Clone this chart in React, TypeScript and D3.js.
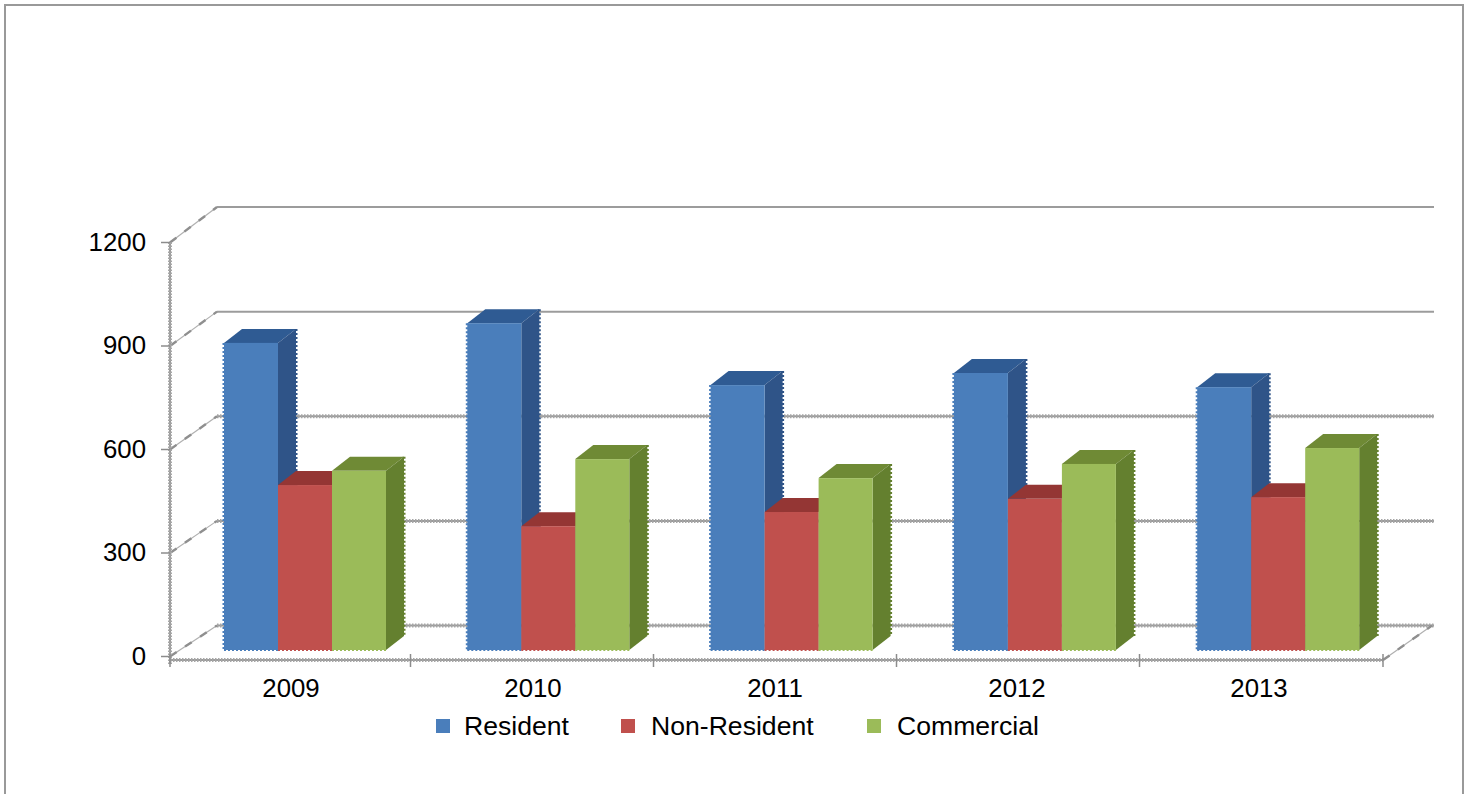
import React from "react";
import * as d3 from "d3";

const years = ["2009", "2010", "2011", "2012", "2013"];
const resident = [888, 945, 766, 801, 760];
const nonResident = [477, 358, 399, 437, 442];
const commercial = [518, 552, 497, 538, 584];
const yTicks = [0, 300, 600, 900, 1200];

const seriesNames = ["Resident", "Non-Resident", "Commercial"];
const seriesValues = [resident, nonResident, commercial];
const frontColors = ["#4a7ebb", "#c0504d", "#9bbb59"];
const topColors = ["#2f5b93", "#943634", "#6f8a35"];
const sideColors = ["#2f5488", "#7e2f2d", "#64802f"];

const FONT = '"Liberation Sans", Arial, sans-serif';
const AXIS_GRAY = "#9a9a9a";

// Bars, labels and tick marks sit on slightly different category spacings
const xBars = d3.scaleBand<string>().domain(years).range([170, 1386.5]);
const xLabels = d3.scaleBand<string>().domain(years).range([170, 1380]);
const xTicks = d3.scaleBand<string>().domain(years).range([167.5, 1382.5]);

// Front plane of the axes and back wall of the 3D box
const yFront = d3.scaleLinear().domain([0, 1200]).range([656.5, 242.5]);
const yBack = d3.scaleLinear().domain([0, 1200]).range([625.5, 207]);
const yBar = d3.scaleLinear().domain([0, 1200]).range([650, 235]);

const axisLeft = 170;
const axisRight = 1383;
const axisY = 660;
const wallLeft = 217;
const wallRight = 1434;
const barOffset = 54;
const barWidth = 54;
const depthX = 18;
const depthY = 14;

const poly = d3.line<[number, number]>();

function Stippled({ x1, y1, x2, y2 }: { x1: number; y1: number; x2: number; y2: number }) {
  return (
    <g fill="none">
      <line x1={x1} y1={y1} x2={x2} y2={y2} stroke={AXIS_GRAY} strokeWidth={2} />
      <line x1={x1} y1={y1} x2={x2} y2={y2} stroke="#a6a6a6" strokeWidth={4} strokeDasharray="1.5 1.5" />
    </g>
  );
}

function Diagonal({ x1, y1, x2, y2 }: { x1: number; y1: number; x2: number; y2: number }) {
  return (
    <g fill="none">
      <line x1={x1} y1={y1} x2={x2} y2={y2} stroke="#b0b0b0" strokeWidth={1.2} />
      <line x1={x1} y1={y1} x2={x2} y2={y2} stroke="#8f8f8f" strokeWidth={2.4} strokeDasharray="8 10" />
    </g>
  );
}

function Bar({ year, value, s }: { year: string; value: number; s: number }) {
  const x0 = (xBars(year) as number) + barOffset + s * barWidth;
  const x1 = x0 + barWidth;
  const yTop = yBar(value);
  const yBase = yBar(0);
  const edge = { strokeWidth: 3, strokeDasharray: "2 2", fill: "none" };
  const top: [number, number][] = [
    [x0, yTop],
    [x0 + depthX, yTop - depthY],
    [x1 + depthX, yTop - depthY],
    [x1, yTop],
  ];
  const side: [number, number][] = [
    [x1, yTop],
    [x1 + depthX, yTop - depthY],
    [x1 + depthX, yBase - depthY],
    [x1, yBase],
  ];
  return (
    <g>
      <path d={poly(top) + "Z"} fill={topColors[s]} />
      <path d={poly(side) + "Z"} fill={sideColors[s]} />
      <line
        x1={x1 + depthX}
        y1={yTop - depthY}
        x2={x1 + depthX}
        y2={yBase - depthY}
        stroke={sideColors[s]}
        {...edge}
      />
      <rect x={x0} y={yTop} width={barWidth} height={yBase - yTop} fill={frontColors[s]} />
      <line x1={x0} y1={yBase} x2={x1} y2={yBase} stroke={frontColors[s]} strokeWidth={2} strokeDasharray="2 2" />
      {s === 0 && <line x1={x0} y1={yTop} x2={x0} y2={yBase} stroke={frontColors[s]} {...edge} />}
    </g>
  );
}

const legendMarkers = [436, 621, 867];
const legendLabels = [464, 651, 897];

export default function App() {
  const tickXs = [axisLeft, ...years.slice(1).map((y) => xTicks(y) as number), axisRight];
  return (
    <svg
      width={1471}
      height={794}
      viewBox="0 0 1471 794"
      style={{ position: "absolute", left: 0, top: 0, display: "block", background: "#ffffff" }}
    >
      {/* Frame: its lower edge runs off the page */}
      <rect x={5} y={5} width={1458} height={800} fill="#ffffff" stroke="#999999" strokeWidth={2} />

      {/* Back wall gridlines and the diagonals running to the front axis */}
      {yTicks.map((t) => {
        const solid = t >= 900;
        const y = yBack(t);
        return (
          <g key={t}>
            {solid ? (
              <line x1={wallLeft} y1={y} x2={wallRight} y2={y} stroke="#9c9c9c" strokeWidth={2} />
            ) : (
              <Stippled x1={wallLeft} y1={y} x2={wallRight} y2={y} />
            )}
            <Diagonal x1={axisLeft} y1={yFront(t)} x2={wallLeft} y2={y} />
          </g>
        );
      })}
      <Diagonal x1={axisRight} y1={axisY} x2={wallRight - 2} y2={yBack(0)} />

      {/* Value axis */}
      <Stippled x1={axisLeft} y1={yFront(1200)} x2={axisLeft} y2={664} />
      {yTicks.map((t) => (
        <g key={t}>
          <line x1={161} y1={yFront(t)} x2={axisLeft} y2={yFront(t)} stroke="#8c8c8c" strokeWidth={1.5} />
          <text
            x={146}
            y={yFront(t) + 8}
            textAnchor="end"
            fontFamily={FONT}
            fontSize={25.8}
            fill="#000"
          >
            {t}
          </text>
        </g>
      ))}

      {/* Category axis */}
      <Stippled x1={axisLeft} y1={axisY} x2={axisRight} y2={axisY} />
      {tickXs.map((x) => (
        <line key={x} x1={x} y1={654} x2={x} y2={667} stroke="#8c8c8c" strokeWidth={1.5} />
      ))}
      {years.map((y) => (
        <text
          key={y}
          x={(xLabels(y) as number) + xLabels.bandwidth() / 2}
          y={697}
          textAnchor="middle"
          fontFamily={FONT}
          fontSize={25.8}
          fill="#000"
        >
          {y}
        </text>
      ))}

      {/* Bars, left to right so each covers its neighbour's side face */}
      {years.map((year, i) => (
        <g key={year}>
          {seriesValues.map((vals, s) => (
            <Bar key={s} year={year} value={vals[i]} s={s} />
          ))}
        </g>
      ))}

      {/* Legend */}
      {seriesNames.map((name, s) => (
        <g key={name}>
          <rect x={legendMarkers[s]} y={719} width={14} height={14} fill={frontColors[s]} />
          <text x={legendLabels[s]} y={735} fontFamily={FONT} fontSize={26.6} fill="#000">
            {name}
          </text>
        </g>
      ))}
    </svg>
  );
}
